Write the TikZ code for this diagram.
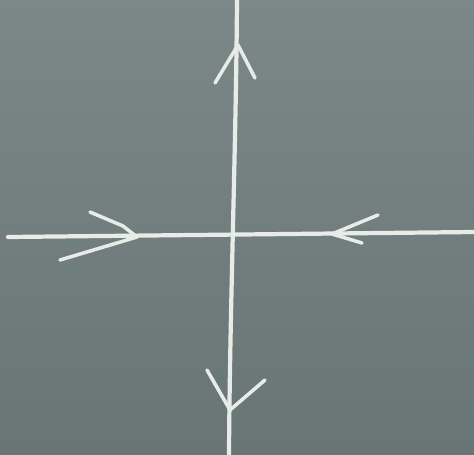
\documentclass[tikz,border=0pt]{standalone}
\begin{document}
\begin{tikzpicture}[x=0.02cm,y=-0.02cm,
  chalk/.style={draw=chalkc,line width=2.4pt,line cap=round,line join=round},
  chalkthin/.style={draw=chalkc,line width=2pt,line cap=round,line join=round}]
\definecolor{board}{RGB}{104,117,117}
\definecolor{boardlight}{RGB}{124,136,136}
\definecolor{chalkc}{RGB}{232,236,230}
\useasboundingbox (0,0) rectangle (474,454);
\shade[top color=boardlight,bottom color=board] (0,0) rectangle (474,454);
% axes
\coordinate (top) at (237,0);
\coordinate (bot) at (229,454);
\coordinate (left) at (8,237);
\coordinate (right) at (474,232);
\draw[chalk] (top) .. controls (236,150) and (230,300) .. (bot);
\draw[chalk] (left) -- (right);
% up arrowhead
\coordinate (ut) at (238,45);
\draw[chalkthin] (215,83) -- (ut) -- (255,78);
% down arrowhead
\coordinate (dt) at (230,410);
\draw[chalkthin] (207,370) -- (dt) -- (265,380);
% left arrowhead (points right)
\coordinate (lt) at (137,237);
\draw[chalkthin] (90,212) -- (123,226) -- (lt) -- (60,260);
% right arrowhead (points left)
\coordinate (rt) at (332,234);
\draw[chalkthin] (378,215) -- (rt) -- (362,243);
\end{tikzpicture}
\end{document}
